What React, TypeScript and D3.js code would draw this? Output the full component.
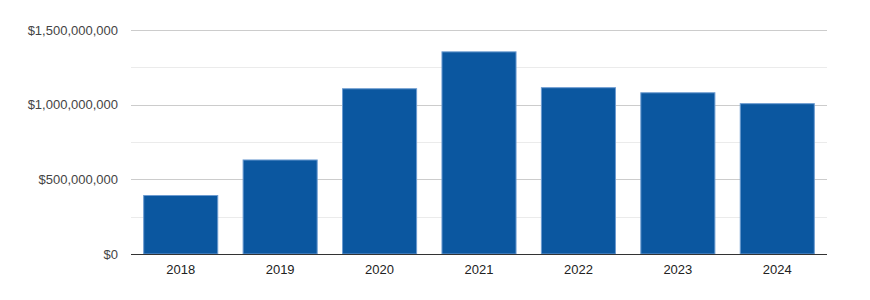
import React from "react";
import * as d3 from "d3";

const years = ["2018", "2019", "2020", "2021", "2022", "2023", "2024"];
const values = [395000000, 633000000, 1110000000, 1357000000, 1117000000, 1083000000, 1010000000];
const majorTicks = [0, 500000000, 1000000000, 1500000000];
const minorTicks = [250000000, 750000000, 1250000000];

const W = 870, H = 300;
const M = { left: 131, right: 43, top: 30, bottom: 46 };

export default function App() {
  const x = d3.scaleBand<string>().domain(years).range([M.left, W - M.right]).paddingInner(0.245).paddingOuter(0.1225);
  const y = d3.scaleLinear().domain([0, 1500000000]).range([H - M.bottom, M.top]);
  const fmt = (v: number) => "$" + d3.format(",")(v);
  const font = "Arial, 'Liberation Sans', sans-serif";
  return (
    <svg width={W} height={H} style={{ position: "absolute", left: 0, top: 0, background: "#fff" }}>
      {minorTicks.map((t) => (
        <line key={"m" + t} x1={M.left} x2={W - M.right} y1={Math.round(y(t)) + 0.5} y2={Math.round(y(t)) + 0.5} stroke="#ebebeb" />
      ))}
      {majorTicks.slice(1).map((t) => (
        <line key={"g" + t} x1={M.left} x2={W - M.right} y1={Math.round(y(t)) + 0.5} y2={Math.round(y(t)) + 0.5} stroke="#cccccc" />
      ))}
      {majorTicks.map((t) => (
        <text key={"t" + t} x={118} y={y(t) + 4.5} textAnchor="end" fontFamily={font} fontSize={13} fill="#444">
          {fmt(t)}
        </text>
      ))}
      {years.map((yr, i) => (
        <rect key={yr} x={x(yr)! + 0.5} y={y(values[i]) + 0.5} width={x.bandwidth() - 1} height={y(0) - y(values[i]) - 0.5}
          fill="#0b57a0" stroke="#6c9bd0" strokeWidth={1} />
      ))}
      <line x1={M.left} x2={W - M.right} y1={Math.round(y(0)) + 0.5} y2={Math.round(y(0)) + 0.5} stroke="#333" />
      {years.map((yr) => (
        <text key={"x" + yr} x={x(yr)! + x.bandwidth() / 2} y={273.5} textAnchor="middle" fontFamily={font} fontSize={13} fill="#222">
          {yr}
        </text>
      ))}
    </svg>
  );
}
